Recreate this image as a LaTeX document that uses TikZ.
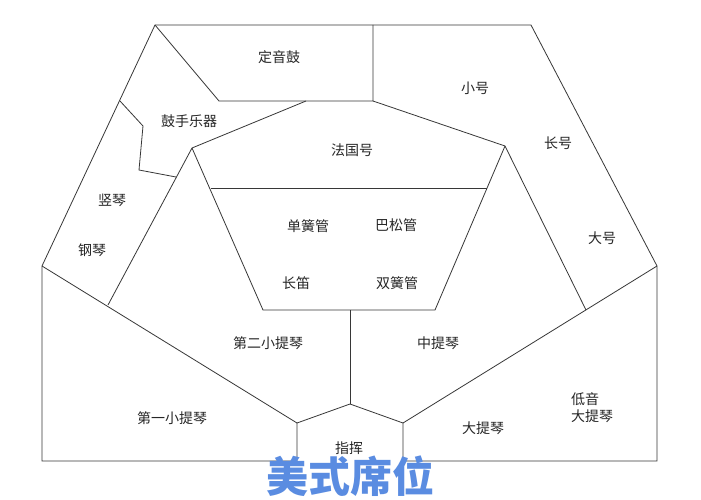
\documentclass[tikz,border=0pt]{standalone}
\usepackage{fontspec}
\newfontfamily\cjk{Noto Sans CJK SC}
\definecolor{seatblue}{RGB}{90,140,225}
\definecolor{wallgray}{RGB}{55,55,55}
\tikzset{
	wall/.style={draw=wallgray, line width=0.8pt, line join=miter},
	seat/.style={font=\cjk\fontsize{14}{17}\selectfont, text=black!85, align=center, inner sep=1pt},
	heading/.style={font=\cjk\bfseries\fontsize{42}{46}\selectfont, text=seatblue, inner sep=0pt}
}
\begin{document}
\begin{tikzpicture}[x=1pt,y=-1pt]
	\useasboundingbox[fill=white] (0,0) rectangle (701,500);
	% outline corners
	\coordinate (apex) at (155,25);
	\coordinate (topR) at (531,25);
	\coordinate (outR) at (657,266);
	\coordinate (botR) at (657,461);
	\coordinate (outL) at (42,266);
	\coordinate (botL) at (42,461);
	% conductor
	\coordinate (condL) at (297,423);
	\coordinate (condR) at (403,423);
	\coordinate (condT) at (350,404);
	\coordinate (condLb) at (297,461);
	\coordinate (condRb) at (403,461);
	% timpani and percussion
	\coordinate (timpT) at (373,25);
	\coordinate (timpB) at (373,101);
	\coordinate (timpL) at (219,101);
	\coordinate (percA) at (120,101);
	\coordinate (percB) at (143,126);
	\coordinate (percC) at (139,170);
	\coordinate (percD) at (176,177);
	% horns
	\coordinate (hornT) at (306,101);
	\coordinate (hornL) at (192,148);
	\coordinate (hornR) at (505,146);
	% woodwinds
	\coordinate (windTL) at (211,188);
	\coordinate (windTR) at (487,188);
	\coordinate (windBL) at (263,310);
	\coordinate (windBR) at (435,310);
	\coordinate (windM) at (350,310);
	% strings
	\coordinate (vlnL) at (108,305);
	\coordinate (vlaR) at (586,310);

	\draw[wall] (condR) -- (condRb) -- (botR) -- (outR) -- (topR) -- (apex) -- (outL) -- (botL) -- (condLb) -- (condL);
	\draw[wall] (outL) -- (condL) -- (condT) -- (condR) -- (outR);
	\draw[wall] (apex) -- (timpL) -- (timpB) -- (timpT);
	\draw[wall] (timpB) -- (hornR) -- (vlaR);
	\draw[wall] (hornT) -- (hornL) -- (vlnL);
	\draw[wall] (percA) -- (percB) -- (percC) -- (percD);
	\draw[wall] (hornL) -- (windBL) -- (windBR) -- (hornR);
	\draw[wall] (windTL) -- (windTR);
	\draw[wall] (windM) -- (condT);

	\node[seat] (timpani) at (279,57) {定音鼓};
	\node[seat] (trumpet) at (475,88) {小号};
	\node[seat] (percussion) at (189,121) {鼓手乐器};
	\node[seat] (horn) at (352,150) {法国号};
	\node[seat] (trombone) at (558,143) {长号};
	\node[seat] (harp) at (112,200) {竖琴};
	\node[seat] (piano) at (92,250) {钢琴};
	\node[seat] (clarinet) at (308,226) {单簧管};
	\node[seat] (bassoon) at (396,225) {巴松管};
	\node[seat] (tuba) at (602,238) {大号};
	\node[seat] (flute) at (296,283) {长笛};
	\node[seat] (oboe) at (397,283) {双簧管};
	\node[seat] (violin2) at (268,343) {第二小提琴};
	\node[seat] (viola) at (438,343) {中提琴};
	\node[seat] (violin1) at (172,418) {第一小提琴};
	\node[seat] (cello) at (483,428) {大提琴};
	\node[seat, align=left] (bass) at (592,408) {低音\\大提琴};
	\node[seat] (conductor) at (349,448) {指挥};
	\node[heading] (title) at (350,476) {美式席位};
\end{tikzpicture}
\end{document}
